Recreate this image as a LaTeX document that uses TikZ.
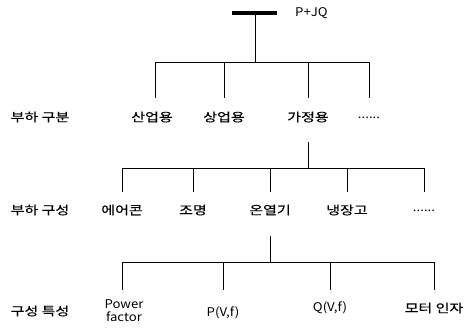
\documentclass[tikz,border=0pt]{standalone}
\usepackage{fontspec}
\setmainfont{Noto Sans CJK KR}
\newfontfamily\kr[FakeStretch=1.25,FakeBold=0.4]{Noto Sans CJK KR}
\newfontfamily\lat[FakeStretch=1.1]{Noto Sans CJK KR}
\begin{document}
\begin{tikzpicture}[x=1pt,y=-1pt,
  lbl/.style={inner sep=0pt,font=\kr\fontsize{12}{13}\selectfont},
  latlbl/.style={inner sep=0pt,font=\lat\fontsize{12}{13}\selectfont},
  ln/.style={line width=0.8pt}]
\useasboundingbox (0,0) rectangle (472,329);
% bus
\coordinate (busL) at (232,13);
\coordinate (busR) at (277,13);
\draw[line width=3.5pt] (busL) -- (busR);
\node[latlbl,anchor=west] (pq) at (295,13) {P+JQ};
\coordinate (bus) at (255,13);
\coordinate (j1) at (255,62);
\coordinate (h1L) at (155,62);
\coordinate (h1R) at (369,62);
% row 1
\node[lbl] (r1) at (40,117) {부하 구분};
\node[lbl] (a1) at (152,117) {산업용};
\node[lbl] (a2) at (224,117) {상업용};
\node[lbl] (a3) at (308,117) {가정용};
\node[latlbl] (a4) at (369,118) {......};
\draw[ln] (bus) -- (j1);
\draw[ln] (h1L) -- (h1R);
\foreach \x in {155,224,308,369} \draw[ln] (\x,62) -- (\x,98);
% row 2
\coordinate (j2) at (308,168);
\node[lbl] (r2) at (40,210) {부하 구성};
\node[lbl] (b1) at (122,210) {에어콘};
\node[lbl] (b2) at (193,210) {조명};
\node[lbl] (b3) at (270,210) {온열기};
\node[lbl] (b4) at (347,210) {냉장고};
\node[latlbl] (b5) at (424,211) {......};
\draw[ln] (a3.south |- 0,142) -- (j2);
\draw[ln] (122,168) -- (424,168);
\foreach \x in {122,193,270,347,424} \draw[ln] (\x,168) -- (\x,192);
% row 3
\coordinate (j3) at (270,262);
\node[lbl] (r3) at (40,311) {구성 특성};
\node[latlbl,align=center] (c1) at (124,311) {Power\\factor};
\node[latlbl] (c2) at (223,313) {P(V,f)};
\node[latlbl] (c3) at (330,308) {Q(V,f)};
\node[lbl] (c4) at (434,308) {모터 인자};
\draw[ln] (b3.south |- 0,236) -- (j3);
\draw[ln] (122,262) -- (434,262);
\foreach \x in {122,223,330,434} \draw[ln] (\x,262) -- (\x,290);
\end{tikzpicture}
\end{document}
